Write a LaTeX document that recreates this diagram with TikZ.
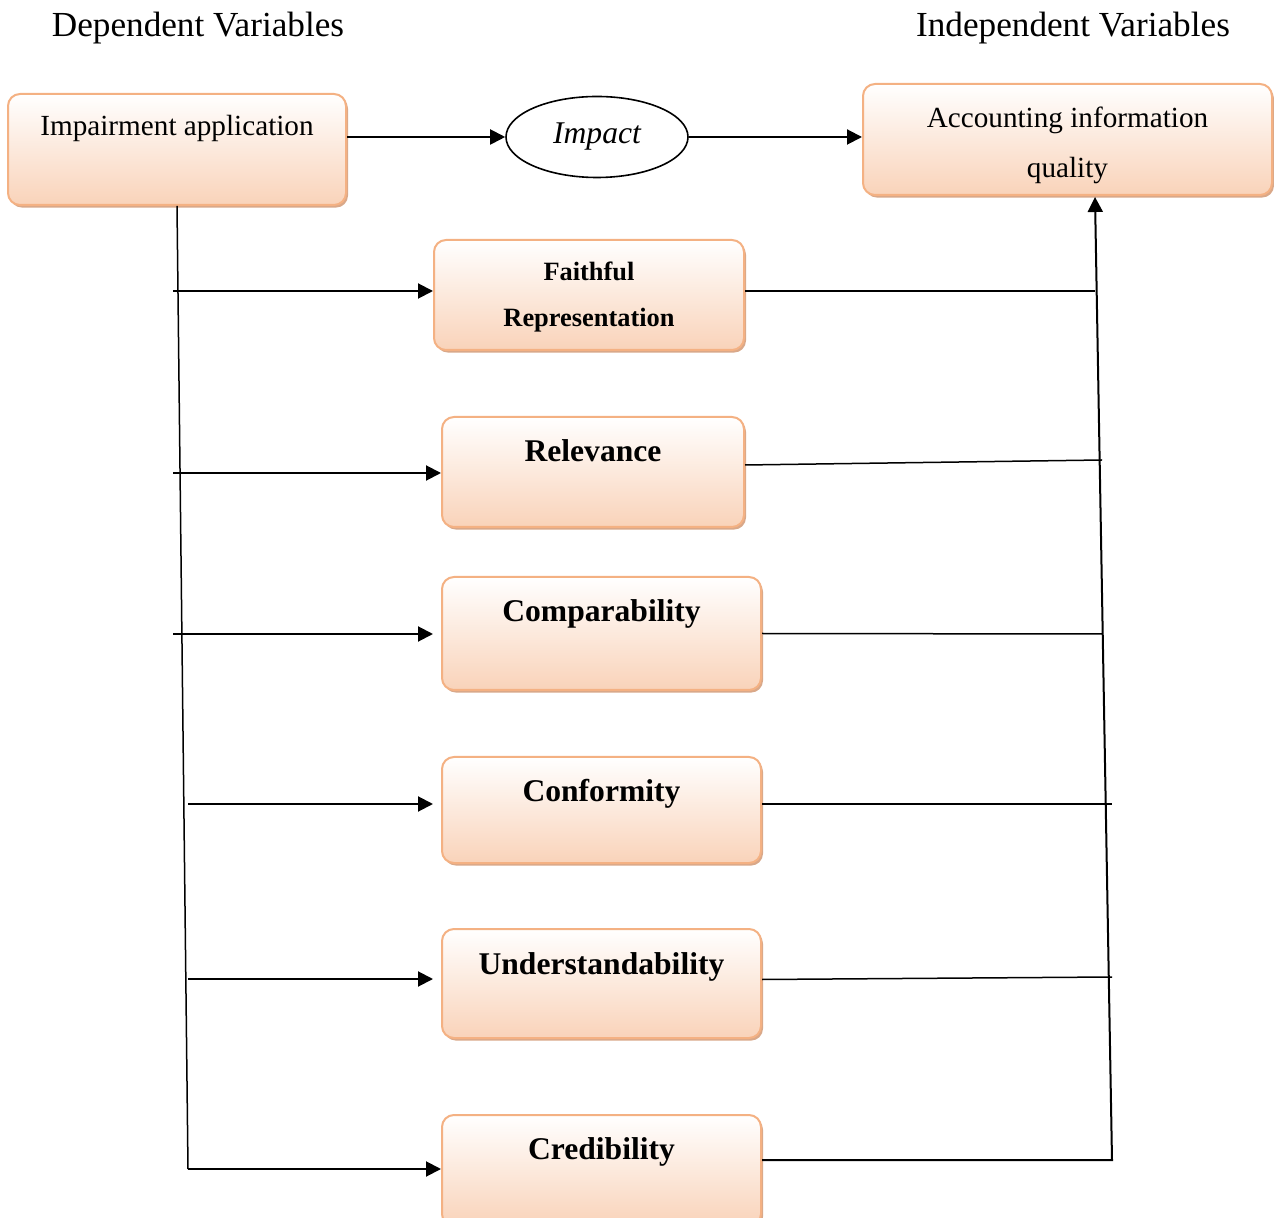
\documentclass[tikz,border=0pt]{standalone}
\usepackage{fontspec}
\setmainfont{Liberation Serif}
\usetikzlibrary{arrows.meta,shapes.geometric,shadows}
\definecolor{boxline}{HTML}{F4B183}
\definecolor{boxfill}{HTML}{F8CBAD}
\definecolor{boxshadow}{HTML}{D9A889}
\tikzset{
	varbox/.style={draw=boxline, line width=1pt, rounded corners=6pt, top color=white, bottom color=boxfill!85,
		drop shadow={shadow xshift=1pt, shadow yshift=-1.3pt, fill=boxshadow, opacity=1},
		align=center, inner sep=0pt, text height=12pt, text depth=23.5pt},
	flow/.style={-{Triangle[length=7.5pt,width=7.5pt]}, line width=1pt},
	link/.style={line width=0.75pt},
	headtext/.style={font=\fontsize{17.6}{20}\selectfont},
	plaintext/.style={font=\fontsize{14.6}{25}\selectfont},
	boldtext/.style={font=\fontsize{15.8}{19}\selectfont\bfseries},
}
\begin{document}
\begin{tikzpicture}[x=0.5pt, y=-0.5pt]
		\useasboundingbox (0,0) rectangle (1274,1218);
		\clip (0,0) rectangle (1274,1218);
		\node[headtext] (dep) at (198,28) {Dependent Variables};
		\node[headtext] (indep) at (1073,28) {Independent Variables};
		\node[varbox, plaintext, minimum width=169pt, minimum height=55.5pt, text depth=25.5pt] (appl) at (177,149.5) {Impairment application};
		\node[ellipse, draw, line width=0.8pt, minimum width=91pt, minimum height=40.5pt, inner sep=0pt, font=\fontsize{15.8}{19}\selectfont\itshape] (impact) at (597,137) {Impact};
		\node[varbox, plaintext, minimum width=204.5pt, minimum height=55.5pt, text height=43.5pt, text depth=5pt] (acc) at (1067.5,139.5) {Accounting information\\quality};
		\node[varbox, font=\fontsize{13.2}{23}\selectfont\bfseries, minimum width=155pt, minimum height=55pt, text height=37pt, text depth=5pt] (faith) at (589,295) {Faithful\\Representation};
		\node[varbox, boldtext, minimum width=151pt, minimum height=55pt, text depth=22pt] (rel) at (593,472) {Relevance};
		\node[varbox, boldtext, minimum width=159.5pt, minimum height=56.5pt, text depth=24pt] (comp) at (601.5,633.5) {Comparability};
		\node[varbox, boldtext, minimum width=159.5pt, minimum height=53pt, text depth=20.5pt] (conf) at (601.5,810) {Conformity};
		\node[varbox, boldtext, minimum width=159.5pt, minimum height=54.5pt, text depth=21.5pt] (und) at (601.5,983.5) {Understandability};
		\node[varbox, boldtext, minimum width=159.5pt, minimum height=55.5pt, text depth=23pt] (cred) at (601.5,1170.5) {Credibility};

		\coordinate (lbot) at (188,1169);
		\coordinate (l1) at (173,291);
		\coordinate (l2) at (173,473);
		\coordinate (l3) at (173,634);
		\coordinate (l4) at (188,804);
		\coordinate (l5) at (188,979);
		\coordinate (r1) at (1095,291);
		\coordinate (r2) at (1102,460);
		\coordinate (r3) at (1102,634);
		\coordinate (r4) at (1112,804);
		\coordinate (r5) at (1112,977);
		\coordinate (r6) at (1112,1160);
		\coordinate (accin) at (1095,197);

		\draw[flow] (appl.east |- impact.west) -- (impact.west);
		\draw[flow] (impact.east) -- (impact.east -| acc.west);
		\draw[link] (appl.south) -- (lbot);
		\draw[flow] (lbot) -- (lbot -| cred.west);
		\draw[flow] (l1) -- (l1 -| faith.west);
		\draw[flow] (l2) -- (l2 -| rel.west);
		\draw[flow] (l3) -- (l3 -| faith.west);
		\draw[flow] (l4) -- (l4 -| faith.west);
		\draw[flow] (l5) -- (l5 -| faith.west);

		\draw[link] (r1 -| faith.east) -- (r1);
		\draw[link] ([yshift=3.5pt]rel.east) -- (r2);
		\draw[link] (comp.east) -- (r3);
		\draw[link] (r4 -| conf.east) -- (r4);
		\draw[link] ([yshift=2pt]und.east) -- (r5);
		\draw[flow] (r6 -| cred.east) -- (r6) -- (accin);
	\end{tikzpicture}
\end{document}
